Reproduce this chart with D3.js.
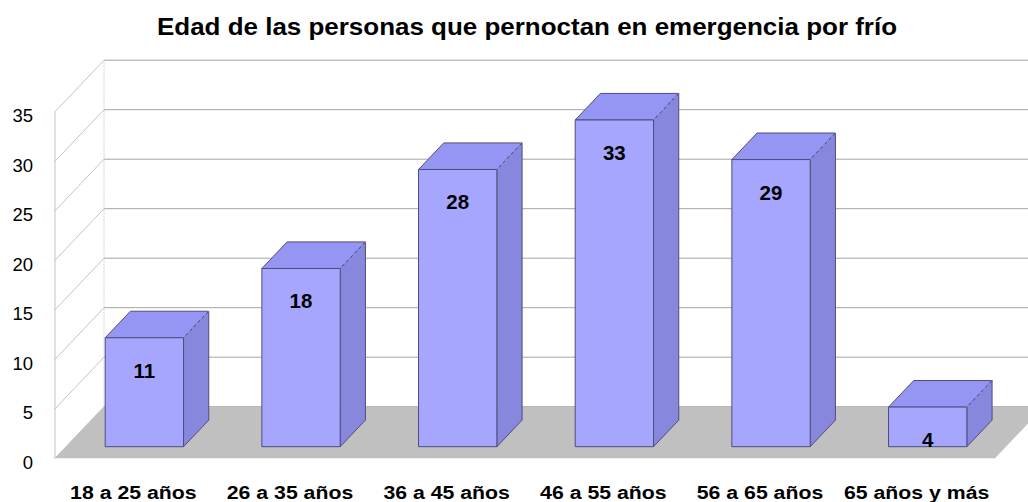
<!DOCTYPE html>
<html>
<head>
<meta charset="utf-8">
<script src="https://cdn.jsdelivr.net/npm/d3@7"></script>
<style>
  body { margin: 0; background: #fff; }
  svg { display: block; font-family: "Liberation Sans", Arial, sans-serif; }
</style>
</head>
<body>
<div id="chart"></div>
<script>
const categories = ['18 a 25 años', '26 a 35 años', '36 a 45 años', '46 a 55 años', '56 a 65 años', '65 años y más'];
const values = [11, 18, 28, 33, 29, 4];
const yTicks = [0, 5, 10, 15, 20, 25, 30, 35];
const title = 'Edad de las personas que pernoctan en emergencia por frío';

const width = 1028;
const height = 502;
const depthX = 49;     // full depth of the 3d box
const depthY = 51.6;
const barFront = 0.225; // bar position inside the depth
const barBack = 0.74;

const svg = d3.select('#chart')
  .append('svg')
  .attr('width', width)
  .attr('height', height);

const x = d3.scaleBand()
  .domain(categories)
  .range([55, 995])
  .paddingInner(0.5)
  .paddingOuter(0.25);

const y = d3.scaleLinear()
  .domain([0, 35])
  .range([458.3, 111.8]);

// point in 3d -> screen
const pt = (px, v, z) => [px + z * depthX, y(v) - z * depthY];

// title (the original text is a bit stretched sideways)
svg.append('g')
  .attr('transform', 'translate(527,35)')
  .append('text')
  .attr('text-anchor', 'middle')
  .attr('transform', 'scale(1.115,1)')
  .style('font-size', '23.3px')
  .style('font-weight', 'bold')
  .text(title);

// walls
const walls = svg.append('g');
const x0 = x.range()[0], x1 = x.range()[1];

yTicks.forEach(t => {
  const a = pt(x0, t, 0), b = pt(x0, t, 1), c = pt(x1 + 60, t, 1);
  walls.append('line')
    .attr('x1', a[0]).attr('y1', a[1]).attr('x2', b[0]).attr('y2', b[1])
    .attr('stroke', '#b4b4b4').attr('stroke-width', 0.8);
  walls.append('line')
    .attr('x1', b[0]).attr('y1', b[1]).attr('x2', c[0]).attr('y2', c[1])
    .attr('stroke', '#a4a4a4').attr('stroke-width', 1);
});

walls.append('line')
  .attr('x1', x0).attr('y1', y(0)).attr('x2', x0).attr('y2', y(35))
  .attr('stroke', '#b4b4b4').attr('stroke-width', 0.8);
walls.append('line')
  .attr('x1', x0 + depthX).attr('y1', y(0) - depthY).attr('x2', x0 + depthX).attr('y2', y(35) - depthY)
  .attr('stroke', '#c4c4c4').attr('stroke-width', 0.8)
  .attr('stroke-dasharray', '2,1');

// floor
const floor = [pt(x0, 0, 0), pt(x1, 0, 0), pt(x1, 0, 1), pt(x0, 0, 1)];
svg.append('polygon')
  .attr('points', floor.map(p => p.join(',')).join(' '))
  .attr('fill', '#c0c0c0');

// bars
const bars = svg.selectAll('.bar')
  .data(values)
  .enter().append('g')
  .attr('class', 'bar');

const poly = d => d.map(p => p.join(',')).join(' ');

bars.each(function(v, i) {
  const g = d3.select(this);
  const xl = x(categories[i]);
  const xr = xl + x.bandwidth();

  g.append('polygon')
    .attr('points', poly([pt(xl, v, barFront), pt(xr, v, barFront), pt(xr, v, barBack), pt(xl, v, barBack)]))
    .attr('fill', '#9595f3').attr('stroke', '#4e4e7c').attr('stroke-width', 1);

  g.append('polygon')
    .attr('points', poly([pt(xr, 0, barFront), pt(xr, v, barFront), pt(xr, v, barBack), pt(xr, 0, barBack)]))
    .attr('fill', '#8787de').attr('stroke', '#4e4e7c').attr('stroke-width', 1);

  const e0 = pt(xr, v, barFront), e1 = pt(xr, v, barBack);
  g.append('line')
    .attr('x1', e0[0]).attr('y1', e0[1]).attr('x2', e1[0]).attr('y2', e1[1])
    .attr('stroke', '#8e8ee8').attr('stroke-width', 1.2)
    .attr('stroke-dasharray', '3,3');

  g.append('polygon')
    .attr('points', poly([pt(xl, 0, barFront), pt(xr, 0, barFront), pt(xr, v, barFront), pt(xl, v, barFront)]))
    .attr('fill', '#a6a6fe').attr('stroke', '#4e4e7c').attr('stroke-width', 1);

  const c = pt(xl + x.bandwidth() / 2, v, barFront);
  g.append('text')
    .attr('x', c[0])
    .attr('y', c[1] + 40)
    .attr('text-anchor', 'middle')
    .style('font-size', '20.5px')
    .style('font-weight', 'bold')
    .text(v);
});

// y axis
const yAxis = svg.append('g')
  .attr('transform', 'translate(36,0)')
  .call(d3.axisLeft(y).tickValues(yTicks).tickSize(0).tickPadding(3));
yAxis.select('.domain').remove();
yAxis.selectAll('text')
  .attr('dy', '0.55em')
  .style('font-size', '18.5px')
  .style('font-family', '"Liberation Sans", Arial, sans-serif')
  .attr('fill', '#000');

// x axis
const xAxis = svg.append('g')
  .attr('transform', `translate(0,${y(0)})`)
  .call(d3.axisBottom(x).tickSize(0));
xAxis.select('.domain').remove();
xAxis.selectAll('text')
  .attr('y', 40.7)
  .attr('dy', 0)
  .attr('transform', 'scale(1.15,1)')
  .style('font-size', '18.5px')
  .style('font-weight', 'bold')
  .style('font-family', '"Liberation Sans", Arial, sans-serif')
  .attr('fill', '#000');
</script>
</body>
</html>
